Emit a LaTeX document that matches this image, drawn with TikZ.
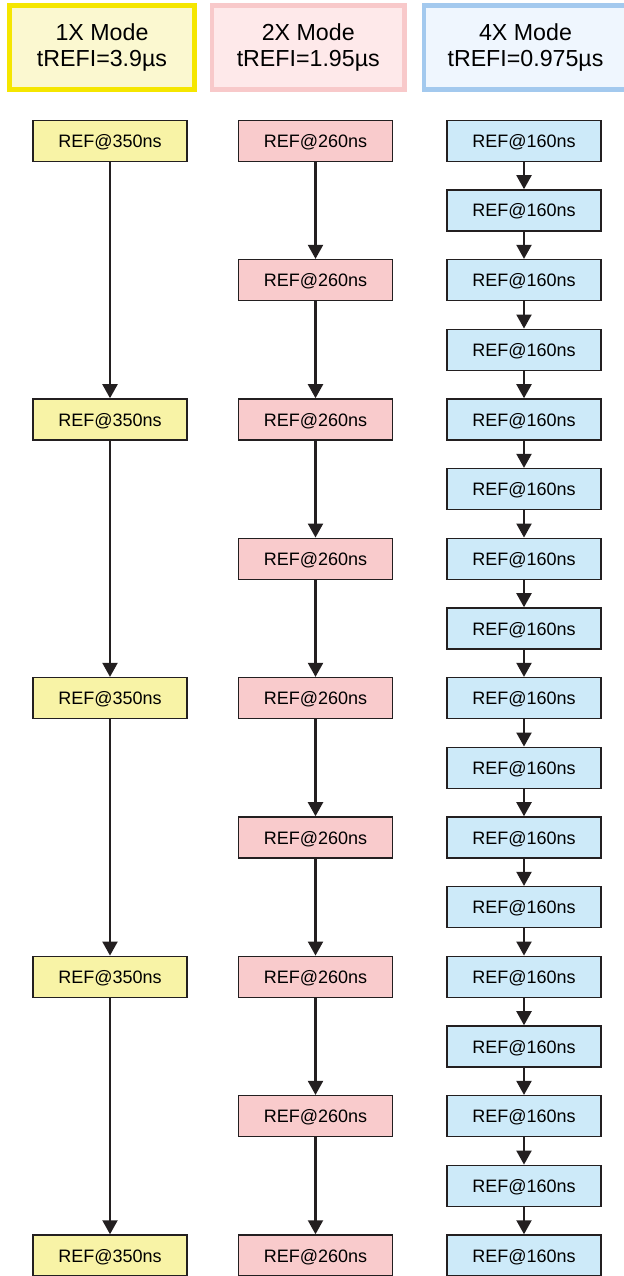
\documentclass[tikz,border=0pt]{standalone}
\usepackage{fontspec}
\setmainfont{Liberation Sans}
\usetikzlibrary{arrows.meta,positioning}
\definecolor{yelline}{HTML}{F5E600}
\definecolor{yelhead}{HTML}{FBF8D0}
\definecolor{yelbox}{HTML}{F8F3A6}
\definecolor{pinkline}{HTML}{F8C9CA}
\definecolor{pinkhead}{HTML}{FEE9EA}
\definecolor{pinkbox}{HTML}{F9CBCC}
\definecolor{blueline}{HTML}{A3C9EE}
\definecolor{bluehead}{HTML}{EFF6FE}
\definecolor{bluebox}{HTML}{CDEAF9}
\definecolor{boxline}{HTML}{231F20}
\begin{document}
\begin{tikzpicture}[x=0.025cm,y=-0.025cm,>={Triangle[width=0.375cm,length=0.35cm]},
  head/.style={draw,line width=3.5pt,minimum height=2.1cm,inner sep=0pt,align=center,
    font=\fontsize{16.5}{18.4}\selectfont},
  refbox/.style={draw=boxline,line width=1.1pt,minimum width=3.85cm,minimum height=1.025cm,
    inner sep=0pt,text depth=0pt,font=\fontsize{12.8}{14}\selectfont},
  link/.style={->,line width=1.5pt,draw=boxline}]
\useasboundingbox (0,0) rectangle (624,1276);
\clip (0,0) rectangle (624,1276);
% mode headers
\node[head,draw=yelline,fill=yelhead,minimum width=4.625cm] (h1) at (102,47.5) {1X Mode\\tREFI=3.9µs};
\node[head,draw=pinkline,fill=pinkhead,minimum width=4.8125cm] (h2) at (308.25,47.5) {2X Mode\\tREFI=1.95µs};
\node[head,draw=blueline,fill=bluehead,minimum width=5.075cm] (h4) at (525.5,47.5) {4X Mode\\tREFI=0.975µs};
% refresh commands, one row every 69.67px
\foreach \i in {0,...,4}
  \node[refbox,fill=yelbox] (y\i) at (110,{140.8+4*69.67*\i}) {REF@350ns};
\foreach \i in {0,...,8}
  \node[refbox,fill=pinkbox] (p\i) at (315.5,{140.8+2*69.67*\i}) {REF@260ns};
\foreach \i in {0,...,16}
  \node[refbox,fill=bluebox] (b\i) at (524,{140.8+69.67*\i}) {REF@160ns};
% arrows
\foreach \i [evaluate=\i as \j using int(\i+1)] in {0,...,3}
  \draw[link] (y\i.south) -- (y\j.north);
\foreach \i [evaluate=\i as \j using int(\i+1)] in {0,...,7}
  \draw[link] (p\i.south) -- (p\j.north);
\foreach \i [evaluate=\i as \j using int(\i+1)] in {0,...,15}
  \draw[link] (b\i.south) -- (b\j.north);
\end{tikzpicture}
\end{document}
